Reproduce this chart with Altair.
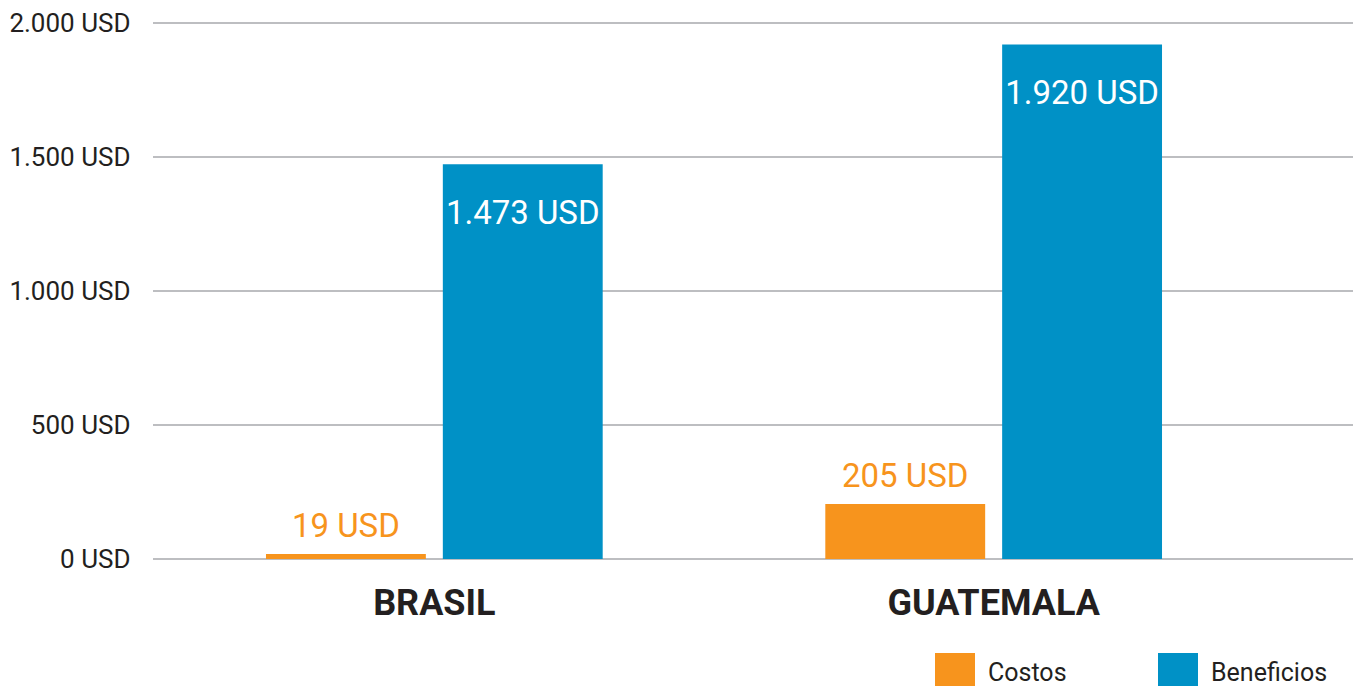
import altair as alt
import pandas as pd

paises = ["BRASIL", "BRASIL", "GUATEMALA", "GUATEMALA"]
series = ["Costos", "Beneficios", "Costos", "Beneficios"]
valores = [19, 1473, 205, 1920]
orden_series = ["Costos", "Beneficios"]
colores = ["#F7941D", "#0091C6"]
ticks_y = [0, 500, 1000, 1500, 2000]

df = pd.DataFrame({"pais": paises, "serie": series, "valor": valores})
df_grid = pd.DataFrame({"valor": ticks_y})

FONT = "Roboto"
W, H = 1200, 536

x_enc = alt.X("pais:N", title=None, sort=["BRASIL", "GUATEMALA"],
              scale=alt.Scale(range=[0, 1122], paddingInner=0.398, paddingOuter=0.202),
              axis=alt.Axis(labelAngle=0, labelFontSize=36, labelFontWeight="bold",
                            labelColor="#231F20", labelFont=FONT, labelPadding=55,
                            labelLimit=0, labelBaseline="alphabetic",
                            domain=False, ticks=False, grid=False))
xo_enc = alt.XOffset("serie:N", sort=orden_series,
                     scale=alt.Scale(paddingInner=0.096, paddingOuter=0))
y_scale = alt.Scale(domain=[0, 2000], nice=False)
y_axis = alt.Axis(values=ticks_y,
                  labelExpr="replace(format(datum.value, ','), ',', '.') + ' USD'",
                  labelFontSize=26, labelColor="#231F20", labelFont=FONT,
                  labelPadding=23, domain=False, ticks=False, grid=False)
y_enc = alt.Y("valor:Q", title=None, scale=y_scale, axis=y_axis)

grid = alt.Chart(df_grid).mark_rule(color="#A7A9AC", strokeWidth=1.3).encode(
    y=alt.Y("valor:Q", title=None, scale=y_scale, axis=y_axis),
    x=alt.value(0), x2=alt.value(W + 5),
)

base = alt.Chart(df).transform_calculate(
    etiqueta="replace(format(datum.valor, ','), ',', '.') + ' USD'"
)

bars = base.mark_bar().encode(
    x=x_enc, xOffset=xo_enc, y=y_enc,
    color=alt.Color("serie:N", sort=orden_series, title=None,
                    scale=alt.Scale(domain=orden_series, range=colores),
                    legend=alt.Legend(orient="none", legendX=782, legendY=630,
                                      direction="horizontal", symbolType="square",
                                      symbolSize=1600, symbolStrokeWidth=0,
                                      labelFontSize=25, labelColor="#231F20", labelFont=FONT,
                                      labelOffset=13, columnPadding=91, padding=0))
)

txt_costos = base.transform_filter("datum.serie == 'Costos'").mark_text(
    fontSize=33, font=FONT, color="#F7941D", baseline="alphabetic", dy=-17
).encode(x=alt.X("pais:N", sort=["BRASIL", "GUATEMALA"]),
         xOffset=alt.XOffset("serie:N", sort=orden_series),
         y=alt.Y("valor:Q", scale=y_scale, axis=y_axis, title=None), text="etiqueta:N")

txt_benef = base.transform_filter("datum.serie == 'Beneficios'").mark_text(
    fontSize=33, font=FONT, color="white", baseline="alphabetic", dy=60
).encode(x=alt.X("pais:N", sort=["BRASIL", "GUATEMALA"]),
         xOffset=alt.XOffset("serie:N", sort=orden_series),
         y=alt.Y("valor:Q", scale=y_scale, axis=y_axis, title=None), text="etiqueta:N")

chart = alt.layer(grid, bars, txt_costos, txt_benef).properties(
    width=W, height=H,
    background="white",
    autosize=alt.AutoSizeParams(type="none"),
    padding={"left": 145, "top": 15, "right": 0, "bottom": 127},
).configure_view(stroke=None, strokeWidth=0)

chart.save("out.html", embed_options={"renderer": "svg", "actions": False})
